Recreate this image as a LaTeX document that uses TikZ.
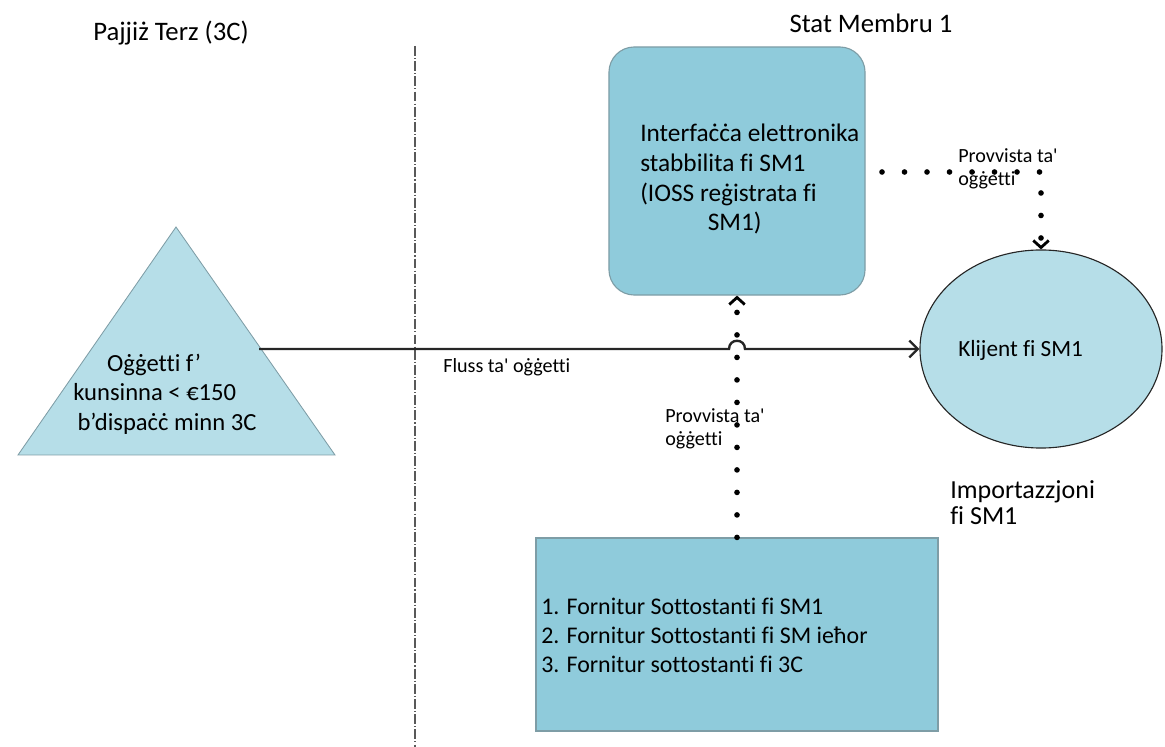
\documentclass[tikz,border=0pt]{standalone}
\usepackage{fontspec}
\setmainfont{Carlito}[Ligatures={TeX,NoCommon}]
\usetikzlibrary{arrows.meta,shapes.geometric}

\definecolor{boxblue}{HTML}{8FCBDB}
\definecolor{paleblue}{HTML}{B6DEE8}
\definecolor{boxedge}{HTML}{7E9DA6}

\tikzset{
  txt/.style={inner sep=0pt, anchor=west, align=left},
  dotline/.style={line width=4pt, dash pattern=on 0pt off 16pt, line cap=round},
  chev/.style={-{Straight Barb[length=5pt,width=11pt,line width=2pt]}}
}

\begin{document}
\begin{tikzpicture}[x=0.025cm,y=-0.025cm]
        \useasboundingbox (0,0) rectangle (1165,747);

        % titles
        \node[txt,anchor=center,font=\fontsize{19}{22}\selectfont] (terz)  at (171,33) {Pajjiż Terz (3C)};
        \node[txt,anchor=center,font=\fontsize{19}{22}\selectfont] (stat)  at (871,23) {Stat Membru 1};

        % border line
        \coordinate (sepTop) at (415,46);
        \coordinate (sepBot) at (415,747);
        \draw[gray!70!black, line width=1.4pt, dash pattern=on 7pt off 1.5pt on 0.8pt off 1.5pt] (sepTop) -- (sepBot);

        % triangle
        \coordinate (triA) at (176,227);
        \coordinate (triB) at (18,455);
        \coordinate (triC) at (335,455);
        \coordinate (triR) at (259,349);
        \filldraw[fill=paleblue, draw=boxedge, line width=0.6pt] (triA) -- (triB) -- (triC) -- cycle;
        \node[txt,font=\fontsize{17.5}{21}\selectfont] (oggetti) at (73,394)
             {\hspace*{24pt}Oġġetti f’\\kunsinna < €150\\\hspace*{3pt}b’dispaċċ minn 3C};

        % boxes
        \node[draw=boxedge, fill=boxblue, rounded corners=18pt, line width=0.8pt,
              minimum width=6.4cm, minimum height=6.2cm] (ioss) at (737,171) {};
        \node[txt,font=\fontsize{18}{21.3}\selectfont] (iosstxt) at (640,179)
             {Interfaċċa elettronika\\ stabbilita fi SM1\\ (IOSS reġistrata fi\\\hspace*{48pt}SM1)};

        \node[draw=boxedge, fill=boxblue, line width=0.8pt,
              minimum width=10.05cm, minimum height=4.825cm] (fornitur) at (737,634.5) {};
        \node[txt,font=\fontsize{17}{20.6}\selectfont] (fornitxt) at (541,635)
             {1. Fornitur Sottostanti fi SM1\\2. Fornitur Sottostanti fi SM ieħor\\3. Fornitur sottostanti fi 3C};

        \node[ellipse, draw=black!85, fill=paleblue, line width=0.8pt,
              minimum width=6.05cm, minimum height=4.95cm] (klijent) at (1041,349) {};
        \node[txt,font=\fontsize{16.5}{20}\selectfont] (klijtxt) at (958,350) {Klijent fi SM1};

        \node[txt,font=\fontsize{18.5}{18.4}\selectfont] (import) at (950,503) {Importazzjoni\\fi SM1};

        % goods flow
        \coordinate (hopL) at (729,349);
        \coordinate (hopR) at (745,349);
        \draw[black!85, line width=1.7pt, -{Straight Barb[length=6pt,width=12pt,line width=1.7pt]}]
             (triR) -- (hopL) .. controls +(0,-11) and +(0,-11) .. (hopR) -- (klijent.west);
        \node[txt,font=\fontsize{14.3}{17}\selectfont] (fluss) at (443,367) {Fluss ta\textquotesingle{} oġġetti};

        % supply lines
        \draw[dotline,chev] (fornitur.north) -- (ioss.south);
        \node[txt,font=\fontsize{14.3}{16}\selectfont] (prov1) at (665,429) {Provvista ta\textquotesingle\\oġġetti};

        \coordinate (iossOut) at (882,172);
        \draw[dotline,chev] (iossOut) -| (klijent.north);
        \node[txt,font=\fontsize{14.3}{16}\selectfont] (prov2) at (958,169) {Provvista ta\textquotesingle\\oġġetti};
      \end{tikzpicture}
\end{document}
